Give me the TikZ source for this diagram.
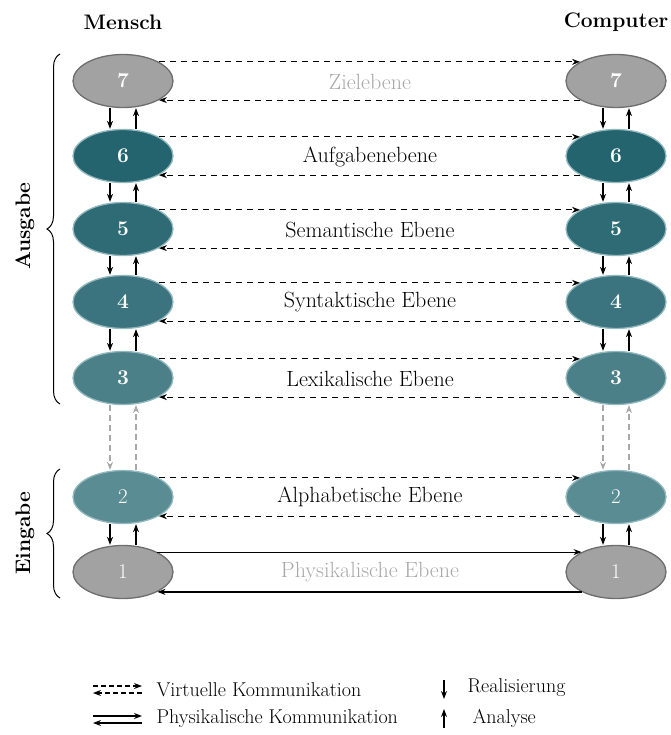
\documentclass[tikz,border=0pt]{standalone}
\usetikzlibrary{shapes.geometric,arrows.meta,decorations.pathreplacing}

\definecolor{levgray}{HTML}{A2A2A2}
\definecolor{levgrayline}{HTML}{6E6E6E}
\definecolor{tealA}{HTML}{23646E}
\definecolor{tealB}{HTML}{2E6B75}
\definecolor{tealC}{HTML}{3B747E}
\definecolor{tealD}{HTML}{4B8089}
\definecolor{tealE}{HTML}{5A8C94}
\definecolor{tealrim}{HTML}{93B9BF}
\definecolor{faint}{HTML}{A8A8A8}

\tikzset{
  x=1pt, y=-1pt,
  every node/.style={font=\fontsize{22}{26}\selectfont},
  legendtext/.style={anchor=west, font=\fontsize{20}{24}\selectfont},
  level/.style={ellipse, minimum width=100pt, minimum height=53pt, inner sep=0pt,
                line width=1.3pt, text=white, font=\fontsize{21}{24}\selectfont\bfseries},
  greylevel/.style={level, fill=levgray, draw=levgrayline},
  teallevel/.style={level, fill=#1, draw=tealrim},
  tip/.style={-{Stealth[length=8pt,width=6pt]}},
  virtual/.style={tip, line width=1.2pt, dash pattern=on 6pt off 5pt},
  physical/.style={tip, line width=1.2pt},
  updown/.style={tip, line width=1.2pt},
  crossing/.style={tip, line width=1.1pt, faint, dash pattern=on 6pt off 4pt},
  title/.style={font=\fontsize{21}{25}\selectfont\bfseries},
  bracelabel/.style={font=\fontsize{21}{25}\selectfont\bfseries, rotate=90},
  brace/.style={decorate, decoration={brace, amplitude=13pt}, line width=1pt},
}

\begin{document}
\begin{tikzpicture}
\useasboundingbox (0,0) rectangle (670,735);

% column headings
\node[title] (mensch) at (123,22) {Mensch};
\node[title] (computer) at (616,22) {Computer};

% the seven levels, human side and computer side
\foreach \side/\cx in {l/123, r/616} {
  \node[greylevel] (\side7) at (\cx,81) {7};
  \node[teallevel=tealA] (\side6) at (\cx,156) {6};
  \node[teallevel=tealB] (\side5) at (\cx,229) {5};
  \node[teallevel=tealC] (\side4) at (\cx,302) {4};
  \node[teallevel=tealD] (\side3) at (\cx,378) {3};
  \node[teallevel=tealE, font=\fontsize{21}{24}\selectfont] (\side2) at (\cx,497) {2};
  \node[greylevel, font=\fontsize{21}{24}\selectfont] (\side1) at (\cx,572) {1};
}

% level names
\node[text=faint] (n7) at (370,82) {Zielebene};
\node (n6) at (370,157) {Aufgabenebene};
\node (n5) at (370,230) {Semantische Ebene};
\node (n4) at (370,302) {Syntaktische Ebene};
\node (n3) at (370,379) {Lexikalische Ebene};
\node (n2) at (370,497) {Alphabetische Ebene};
\node[text=faint] (n1) at (370,572) {Physikalische Ebene};

% virtual communication between peer levels
\foreach \k in {7,6,5,4,3,2} {
  \draw[virtual] (l\k.28) -- (r\k.152);
  \draw[virtual] (r\k.208) -- (l\k.332);
}
% physical communication on the lowest level
\draw[physical] (l1.30) -- (r1.150);
\draw[physical] (r1.210) -- (l1.330);

% realisation (down) and analysis (up) between adjacent levels
\foreach \a/\b in {7/6, 6/5, 5/4, 4/3, 2/1} {
  \foreach \side in {l, r} {
    \draw[updown] ([xshift=-13pt]\side\a.south) -- ([xshift=-13pt]\side\b.north);
    \draw[updown] ([xshift=13pt]\side\b.north) -- ([xshift=13pt]\side\a.south);
  }
}
\foreach \side in {l, r} {
  \draw[crossing] ([xshift=-13pt]\side3.south) -- ([xshift=-13pt]\side2.north);
  \draw[crossing] ([xshift=13pt]\side2.north) -- ([xshift=13pt]\side3.south);
}

% output and input groups
\coordinate (ausTop) at (60,54);
\coordinate (ausBot) at (60,404);
\coordinate (einTop) at (60,469);
\coordinate (einBot) at (60,598);
\draw[brace] (ausBot) -- (ausTop);
\draw[brace] (einBot) -- (einTop);
\node[bracelabel] (ausgabe) at (25,226) {Ausgabe};
\node[bracelabel] (eingabe) at (25,533) {Eingabe};

% legend
\coordinate (v1a) at (93,686);
\coordinate (v1b) at (142,686);
\coordinate (v2a) at (142,693);
\coordinate (v2b) at (93,693);
\draw[virtual, line width=1.1pt, dash pattern=on 5pt off 3pt] (v1a) -- (v1b);
\draw[virtual, line width=1.1pt, dash pattern=on 5pt off 3pt] (v2a) -- (v2b);
\coordinate (p1a) at (93,716);
\coordinate (p1b) at (142,716);
\coordinate (p2a) at (142,723);
\coordinate (p2b) at (93,723);
\draw[physical, line width=1.1pt] (p1a) -- (p1b);
\draw[physical, line width=1.1pt] (p2a) -- (p2b);
\node[legendtext] (legV) at (153,690) {Virtuelle Kommunikation};
\node[legendtext] (legP) at (153,719) {Physikalische Kommunikation};

\coordinate (d1) at (444,680);
\coordinate (d2) at (444,699);
\coordinate (u1) at (444,728);
\coordinate (u2) at (444,709);
\draw[updown] (d1) -- (d2);
\draw[updown] (u1) -- (u2);
\node[legendtext] (legR) at (464,688) {Realisierung};
\node[legendtext] (legA) at (469,718) {Analyse};
\end{tikzpicture}
\end{document}
